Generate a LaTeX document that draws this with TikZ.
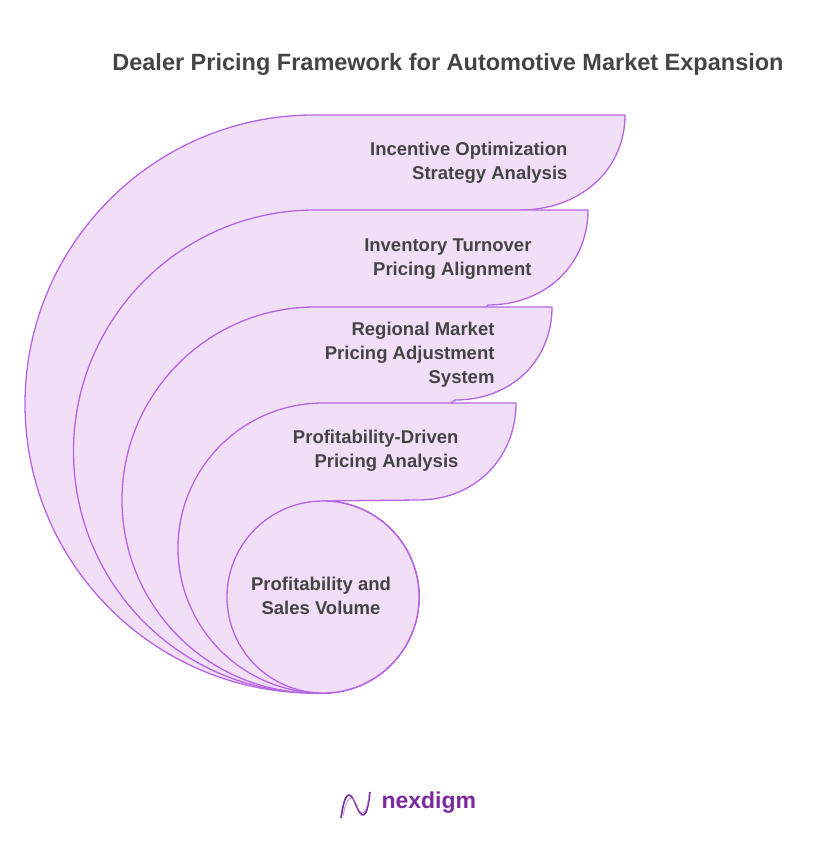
\documentclass[tikz,border=0pt]{standalone}
\usepackage{fontspec}
\setmainfont{Liberation Sans}
\definecolor{fillc}{HTML}{F1DFF8}
\definecolor{linec}{HTML}{B565E3}
\definecolor{txt}{HTML}{444444}
\definecolor{logo}{HTML}{7A2A9C}
\begin{document}
\begin{tikzpicture}[x=1pt,y=-1pt,
  layer/.style={fill=fillc,draw=linec,line width=1.3pt,line join=round},
  lab/.style={font=\bfseries\fontsize{18.5}{24}\selectfont,text=txt,align=right,anchor=east}]
\useasboundingbox (0,0) rectangle (819,858);
\node[font=\bfseries\fontsize{23.5}{28}\selectfont,text=txt] (title) at (448,64) {Dealer Pricing Framework for Automotive Market Expansion};
\draw[layer] (314,693) arc[start angle=90,end angle=270,radius=289] -- (625,115)
  .. controls (625,170) and (580,210) .. (520,210) -- (323,501) arc[start angle=270,end angle=450,radius=96] -- cycle;
\draw[layer] (315,693) arc[start angle=90,end angle=270,radius=241.5] -- (588,210)
  .. controls (588,265) and (545,305) .. (488,305) -- (323,501) arc[start angle=270,end angle=450,radius=96] -- cycle;
\draw[layer] (315,693) arc[start angle=90,end angle=270,radius=193] -- (552,307)
  .. controls (552,360) and (512,400) .. (455,400) -- (323,501) arc[start angle=270,end angle=450,radius=96] -- cycle;
\draw[layer] (323,693) arc[start angle=90,end angle=270,radius=145] -- (516,403)
  .. controls (516,458) and (475,500) .. (418,500) -- (323,501) arc[start angle=270,end angle=450,radius=96] -- cycle;
\draw[layer] (323,597) circle[radius=96];
\node[lab] (t1) at (571,163) {Incentive Optimization\\Strategy Analysis};
\node[lab] (t2) at (535,259) {Inventory Turnover\\Pricing Alignment};
\node[lab] (t3) at (498,355) {Regional Market\\Pricing Adjustment\\System};
\node[lab] (t4) at (462,451) {Profitability-Driven\\Pricing Analysis};
\node[lab,align=center,anchor=center] (t5) at (321,596) {Profitability and\\Sales Volume};
% logo
\draw[logo,line width=1.6pt] (341,818) .. controls (345,790) and (350,790) .. (356,805) .. controls (362,820) and (367,820) .. (370,792);
\draw[logo!50,line width=0.8pt] (343,816) .. controls (347,796) and (352,792) .. (358,808) .. controls (363,818) and (367,812) .. (369,794);
\node[font=\bfseries\fontsize{23}{24}\selectfont,text=logo,anchor=west] (logo) at (378,803) {nexdigm};
\end{tikzpicture}
\end{document}
